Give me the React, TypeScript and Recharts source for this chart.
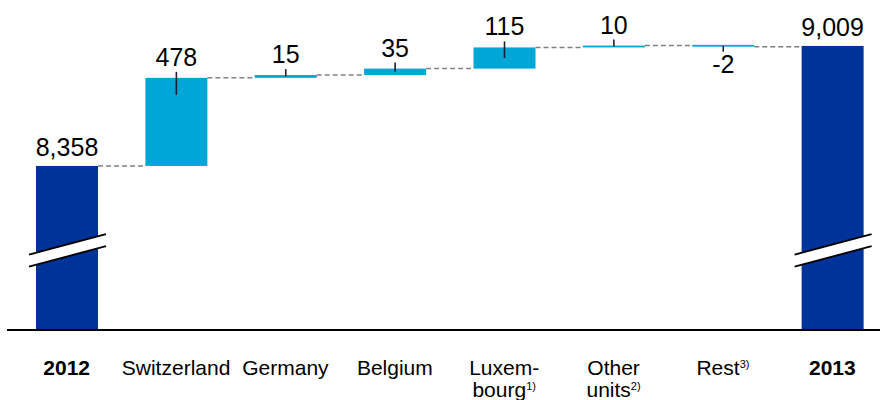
import React from "react";
import { BarChart, Bar, XAxis, YAxis } from "recharts";

// ---- data ----
const categories = ["2012", "Switzerland", "Germany", "Belgium", "Luxembourg", "Other units", "Rest", "2013"];
const startTotal = 8358;
const endTotal = 9009;
const deltas = [478, 15, 35, 115, 10, -2]; // Switzerland .. Rest
const tickLines = [["2012"], ["Switzerland"], ["Germany"], ["Belgium"], ["Luxem-", "bourg"], ["Other", "units"], ["Rest"], ["2013"]];
const tickNotes = ["", "", "", "", "1)", "2)", "3)", ""];
const Y_MIN = 7468;
const Y_MAX = 9204;

// ---- layout ----
const CHART_W = 890;
const CHART_H = 400;
const MARGIN = { top: 10, right: 3, left: 7, bottom: 0 };
const PAD_L = 5;
const PLOT_W = CHART_W - MARGIN.left - MARGIN.right;
const BAND = (PLOT_W - PAD_L) / categories.length;
const BAR_SIZE = 62;

const TOTAL_COLOR = "#003399";
const DELTA_COLOR = "#00A6D6";
const FONT = "'Liberation Sans', Arial, Helvetica, sans-serif";
const VALUE_FS = 25;

type Row = { name: string; kind: string; low: number; high: number; value: number; end: number };

let running = startTotal;
const data: Row[] = categories.map((name, i) => {
  if (i === 0) return { name, kind: "total", low: Y_MIN, high: startTotal, value: startTotal, end: startTotal };
  if (i === categories.length - 1) return { name, kind: "total", low: Y_MIN, high: endTotal, value: endTotal, end: endTotal };
  const d = deltas[i - 1];
  const s = running;
  running += d;
  return { name, kind: "delta", low: Math.min(s, running), high: Math.max(s, running), value: d, end: running };
});

const fmt = (v: number) => v.toLocaleString("en-US");

function WaterfallShape(props: any) {
  const { x, y, width, height, payload, index } = props;
  if (x == null || y == null) return null;
  const top = Math.min(y, y + height);
  const h = Math.abs(height);
  const isTotal = payload.kind === "total";
  const isNeg = payload.value < 0;
  const rh = Math.max(h, 1.8);
  const ry = h < 1.8 ? top + h / 2 - rh / 2 : top;
  const bottom = ry + rh;
  const cx = x + width / 2;
  const endY = isTotal ? ry : isNeg ? bottom : ry;
  const gap = BAND - width;
  const els: any[] = [];
  els.push(<rect key="r" x={x} y={ry} width={width} height={rh} fill={isTotal ? TOTAL_COLOR : DELTA_COLOR} />);
  if (isTotal) {
    const cy = bottom - 79.5;
    const xl = x - 7;
    const xr = x + width + 8;
    const slope = 0.265;
    const yAt = (xx: number) => cy - slope * (xx - cx);
    const half = 6;
    els.push(
      <polygon key="bw" points={`${xl},${yAt(xl) - half} ${xr},${yAt(xr) - half} ${xr},${yAt(xr) + half} ${xl},${yAt(xl) + half}`} fill="#fff" />
    );
    els.push(<line key="b1" x1={xl} y1={yAt(xl) - half} x2={xr} y2={yAt(xr) - half} stroke="#000" strokeWidth={1.8} />);
    els.push(<line key="b2" x1={xl} y1={yAt(xl) + half} x2={xr} y2={yAt(xr) + half} stroke="#000" strokeWidth={1.8} />);
    els.push(
      <text key="t" x={cx} y={ry - 9.5} textAnchor="middle" fontSize={VALUE_FS} fontFamily={FONT} fill="#000">
        {fmt(payload.value)}
      </text>
    );
  } else if (isNeg) {
    els.push(<line key="k" x1={cx} y1={ry + rh / 2} x2={cx} y2={bottom + 5} stroke="#1a2230" strokeWidth={1.6} />);
    els.push(
      <text key="t" x={cx} y={bottom + 26} textAnchor="middle" fontSize={VALUE_FS} fontFamily={FONT} fill="#000">
        {fmt(payload.value)}
      </text>
    );
  } else {
    els.push(<line key="k" x1={cx} y1={ry - 6} x2={cx} y2={Math.min(ry + 17, ry + rh / 2)} stroke="#1a2230" strokeWidth={1.6} />);
    els.push(
      <text key="t" x={cx} y={ry - 12} textAnchor="middle" fontSize={VALUE_FS} fontFamily={FONT} fill="#000">
        {fmt(payload.value)}
      </text>
    );
  }
  if (index < categories.length - 1) {
    els.push(
      <line key="c" x1={x + width} y1={endY} x2={x + width + gap} y2={endY} stroke="#808080" strokeWidth={1.5} strokeDasharray="5 3" />
    );
  }
  return <g>{els}</g>;
}

function CategoryTick(props: any) {
  const { x, y, payload } = props;
  const i = categories.indexOf(payload.value);
  if (i < 0) return null;
  const lines = tickLines[i];
  const note = tickNotes[i];
  const bold = i === 0 || i === categories.length - 1;
  return (
    <text textAnchor="middle" fontSize={21} fontFamily={FONT} fontWeight={bold ? "bold" : "normal"} fill="#000">
      {lines.map((l, k) => (
        <tspan key={k} x={x} y={y + 45 + k * 22}>
          {l}
          {k === lines.length - 1 && note ? (
            <tspan fontSize={11} dy={-7}>
              {note}
            </tspan>
          ) : null}
        </tspan>
      ))}
    </text>
  );
}

export default function App() {
  return (
    <div style={{ position: "absolute", left: 0, top: 0, width: 880, height: 400, overflow: "hidden", background: "#fff" }}>
      <BarChart width={CHART_W} height={CHART_H} data={data} margin={MARGIN} barSize={BAR_SIZE}>
        <XAxis
          dataKey="name"
          tick={<CategoryTick />}
          tickLine={false}
          tickSize={0}
          tickMargin={0}
          interval={0}
          height={70}
          padding={{ left: PAD_L, right: 0 }}
          axisLine={{ stroke: "#000", strokeWidth: 2 }}
        />
        <YAxis hide domain={[Y_MIN, Y_MAX]} allowDataOverflow />
        <Bar dataKey={(d: Row) => [d.low, d.high]} shape={(p: any) => <WaterfallShape {...p} />} isAnimationActive={false} />
      </BarChart>
    </div>
  );
}
